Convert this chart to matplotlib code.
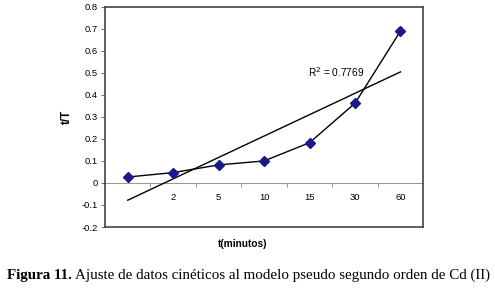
import numpy as np
import matplotlib.pyplot as plt
from matplotlib.ticker import FixedLocator, NullFormatter

# t/T values, one per time category
time_labels = ["", "2", "5", "10", "15", "30", "60"]
t_over_T = [0.027, 0.047, 0.082, 0.100, 0.183, 0.362, 0.690]
r_squared = 0.7769

plt.rcParams['font.family'] = ['Liberation Sans', 'DejaVu Sans']

fig = plt.figure(figsize=(4.95, 2.89), dpi=100)
ax = fig.add_axes([0.212, 0.2145, 0.643, 0.762])

n = len(t_over_T)
x = np.arange(n) + 0.5

# data series
ax.plot(x, t_over_T, color='black', lw=1.0, zorder=3)
ax.plot(x, t_over_T, ls='none', marker='D', ms=5.5, color='#1a1a8c',
        markeredgecolor='#1a1a8c', zorder=4)

# linear trend line (Excel style, fitted on category index)
idx = np.arange(1, n + 1)
slope, intercept = np.polyfit(idx, t_over_T, 1)
ax.plot(x, slope * idx + intercept, color='black', lw=1.0, zorder=3)
ax.text(4.47, 0.505, "R$^2$ = %.4f" % r_squared, fontsize=7.3, va='center',
        ha='left')

ax.set_xlim(0, n)
ax.set_ylim(-0.2, 0.8)
ax.set_yticks(np.arange(-0.2, 0.81, 0.1))
ax.set_yticklabels(["-0.2", "-0.1", "0", "0.1", "0.2", "0.3", "0.4",
                    "0.5", "0.6", "0.7", "0.8"])
ax.tick_params(axis='y', labelsize=6.8, length=3, width=0.6, color='#555555',
               pad=2)
ax.set_xticks([])
for s in ax.spines.values():
    s.set_color('#444444')
    s.set_linewidth(1.2)

# category axis sitting on y = 0
sec = ax.secondary_xaxis(0.2)
sec.xaxis.set_major_locator(FixedLocator(np.arange(1, n)))
sec.xaxis.set_major_formatter(NullFormatter())
sec.xaxis.set_minor_locator(FixedLocator(x))
sec.set_xticklabels(time_labels, minor=True)
sec.tick_params(which='major', length=3, width=0.6, color='#888888')
sec.tick_params(which='minor', length=0, labelsize=6.8, pad=7)
sec.spines['bottom'].set_color('#999999')
sec.spines['bottom'].set_linewidth(0.8)

ax.set_ylabel("t/T", fontsize=8.5, fontweight='bold', labelpad=6)
fig.text(0.49, 0.157, "t(minutos)", fontsize=7.3, fontweight='bold',
         ha='center', va='center')

# caption: bold prefix followed by regular text
fig.canvas.draw()
renderer = fig.canvas.get_renderer()
cap1 = fig.text(0.014, 0.048, "Figura 11.", fontsize=10.8, fontweight='bold',
                family='Liberation Serif', va='center')
bb = cap1.get_window_extent(renderer)
fig.text((bb.x1 + 3) / fig.bbox.width, 0.048,
         "Ajuste de datos cinéticos al modelo pseudo segundo orden de Cd (II)",
         fontsize=10.8, family='Liberation Serif', va='center')

fig.savefig("out.png", dpi=100)
